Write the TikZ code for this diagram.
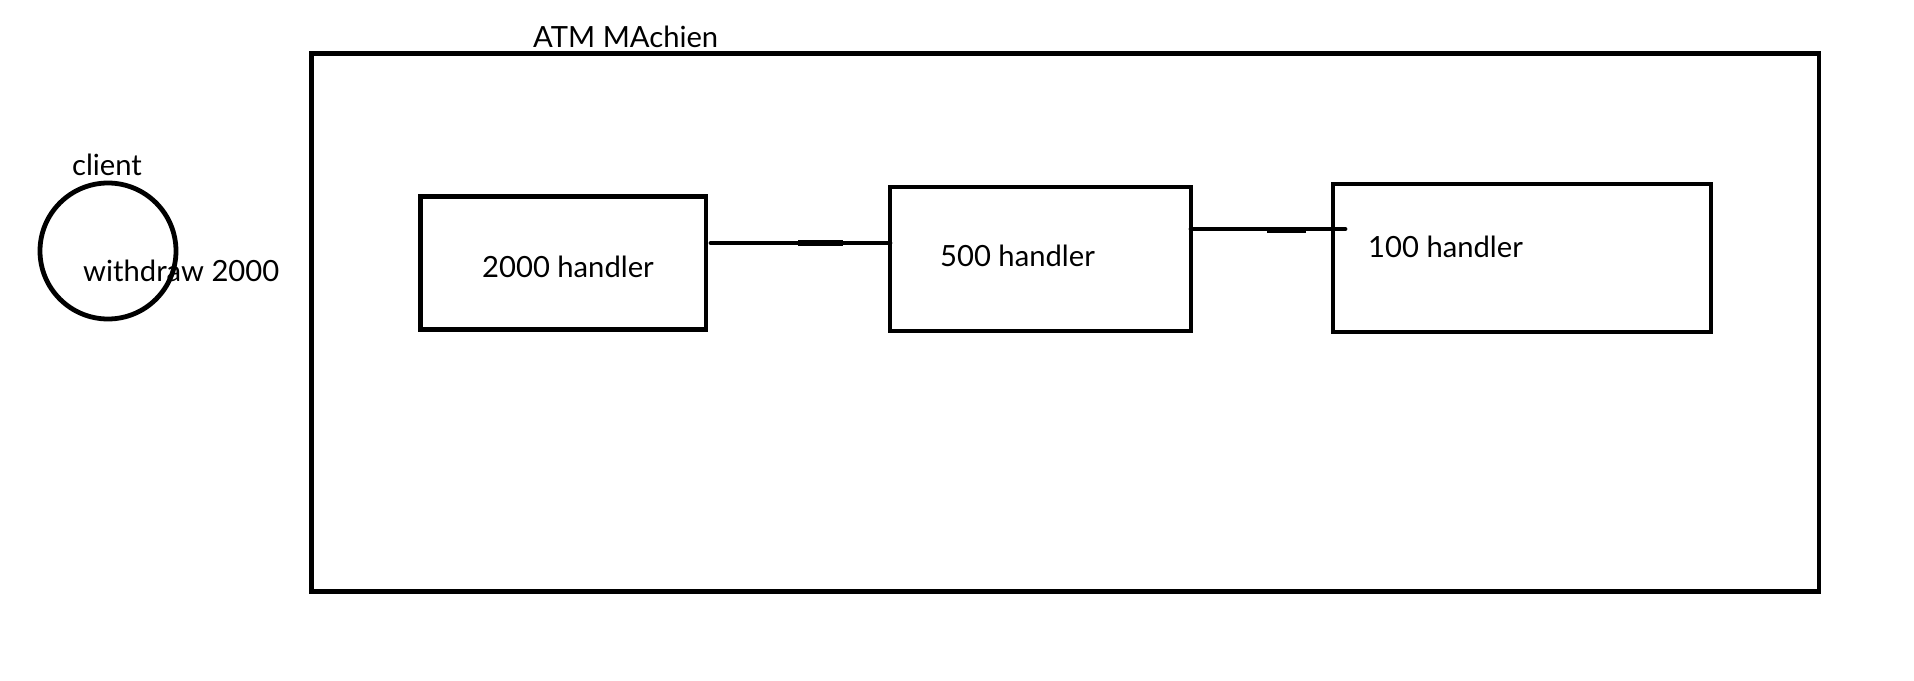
\documentclass[tikz,border=0pt]{standalone}
\usepackage{fontspec}
\setmainfont{Lato}
\begin{document}
\begin{tikzpicture}[x=1pt,y=-1pt,
  stroke/.style={line width=4.8pt,draw=black},
  handlerbox/.style={stroke,rectangle,inner sep=0pt,outer sep=0pt,anchor=north west},
  lbl/.style={inner sep=0pt,anchor=base west,font=\fontsize{29.2}{31}\selectfont},
  conn/.style={line width=4.8pt},
  connthick/.style={line width=6.7pt}]
\useasboundingbox[fill=white] (0,0) rectangle (1914,680);
% outer ATM box
\node[handlerbox,minimum width=1507.5pt,minimum height=538pt] (atm) at (311.5,53.5) {};
\node[lbl] (title) at (533,47) {ATM MAchien};
% client
\node[stroke,circle,minimum size=136pt,inner sep=0pt,outer sep=0pt] (client) at (108,251) {};
\node[lbl,anchor=base] (clientlbl) at (107,175) {client};
\node[lbl] (withdraw) at (83,281) {withdraw 2000};
% handler boxes
\node[handlerbox,minimum width=285.5pt,minimum height=133pt] (b2000) at (420.5,196.5) {};
\node[handlerbox,minimum width=301pt,minimum height=144pt] (b500) at (890,187) {};
\node[handlerbox,minimum width=378pt,minimum height=148pt] (b100) at (1333,184) {};
\node[lbl] (t2000) at (482,277) {2000 handler};
\node[lbl] (t500) at (940,266) {500 handler};
\node[lbl] (t100) at (1368,257) {100 handler};
% connectors
\coordinate (s1) at ([xshift=5pt]b2000.east |- 0,243);
\coordinate (e1) at (b500.west |- 0,243);
\draw[conn,line cap=round] (s1) -- (e1);
\draw[connthick] (798,243) -- (843,243);
\coordinate (s2) at (b500.east |- 0,229);
\coordinate (e2) at (1345,229);
\draw[conn,line cap=round] (s2) -- (e2);
\draw[connthick] (1267,230) -- (1306,230);
\end{tikzpicture}
\end{document}
